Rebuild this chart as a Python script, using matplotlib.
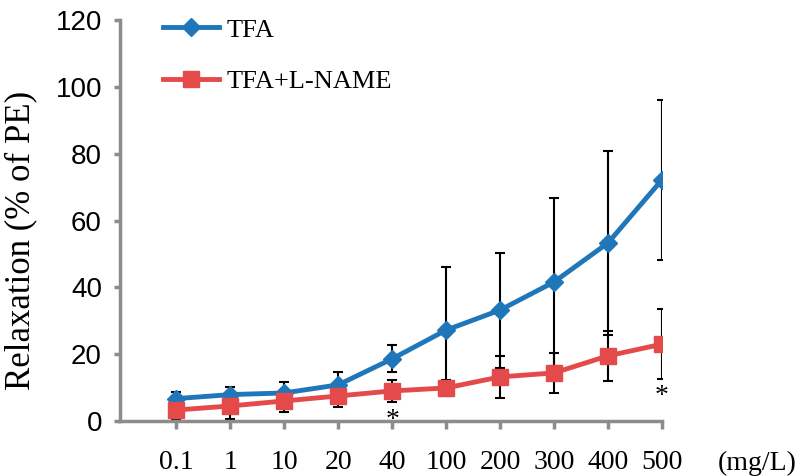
import matplotlib.pyplot as plt
import numpy as np

# dose categories (mg/L)
doses = ['0.1', '1', '10', '20', '40', '100', '200', '300', '400', '500']

tfa = [6.7, 7.9, 8.4, 10.8, 18.6, 27.2, 33.2, 41.6, 53.3, 72.2]
tfa_err = [2.0, 2.2, 3.3, 3.8, 4.0, 19.0, 17.2, 25.2, 27.5, 24.0]

tfa_lname = [3.3, 4.5, 6.0, 7.5, 9.0, 9.9, 13.2, 14.4, 19.5, 23.0]
tfa_lname_err = [2.7, 3.9, 3.3, 3.3, 3.3, 2.5, 6.3, 6.0, 7.4, 10.4]

sig = ['40', '500']

blue = '#1f77ba'
red = '#e44a4a'
axis_grey = '#8c8c8c'
serif = 'Liberation Serif'

x = np.arange(len(doses))

fig = plt.figure(figsize=(8, 4.76), dpi=100)
ax = fig.add_axes([0.15, 0.1155, 0.6775, 0.8425])

ax.errorbar(x, tfa, yerr=tfa_err, fmt='none', ecolor='black', elinewidth=1.5,
            capsize=3.5, capthick=1.5, zorder=2)
ax.errorbar(x, tfa_lname, yerr=tfa_lname_err, fmt='none', ecolor='black', elinewidth=1.5,
            capsize=3.5, capthick=1.5, zorder=2)
ax.plot(x, tfa, color=blue, lw=3.5, marker='D', markersize=9.5, label='TFA', zorder=3)
ax.plot(x, tfa_lname, color=red, lw=3.5, marker='s', markersize=11, label='TFA+L-NAME', zorder=4)

for d in sig:
    i = doses.index(d)
    ax.annotate('*', xy=(i, tfa_lname[i] - tfa_lname_err[i]), xytext=(0, -13),
                textcoords='offset points', ha='center', va='center',
                fontsize=20, family=serif)

ax.set_xlim(-1.04, 9)
ax.set_ylim(0, 120)
ax.set_yticks(range(0, 121, 20))
ax.set_xticks(x)
ax.set_xticklabels(doses, fontsize=20, family=serif)
for lab in ax.get_yticklabels():
    lab.set_fontsize(20)
    lab.set_family('Liberation Sans')

ax.spines['top'].set_visible(False)
ax.spines['right'].set_visible(False)
for s in ['left', 'bottom']:
    ax.spines[s].set_color(axis_grey)
    ax.spines[s].set_linewidth(2.5)
ax.tick_params(axis='x', length=6, width=2.5, color=axis_grey, pad=15)
ax.tick_params(axis='y', length=4, width=2.5, color=axis_grey, pad=9)

ax.set_ylabel('Relaxation (% of PE)', fontsize=25, family=serif)
ax.yaxis.set_label_coords(-0.153, 0.45)
fig.text(0.947, 0.026, '(mg/L)', fontsize=20, family=serif, ha='center', va='center')

ax.legend(loc='upper left', bbox_to_anchor=(0.204, 0.962), bbox_transform=fig.transFigure,
          frameon=False, prop={'family': serif, 'size': 19}, handlelength=2.1,
          handletextpad=0.3, labelspacing=1.07, borderaxespad=0, borderpad=0)

fig.savefig('out.png', dpi=100)
